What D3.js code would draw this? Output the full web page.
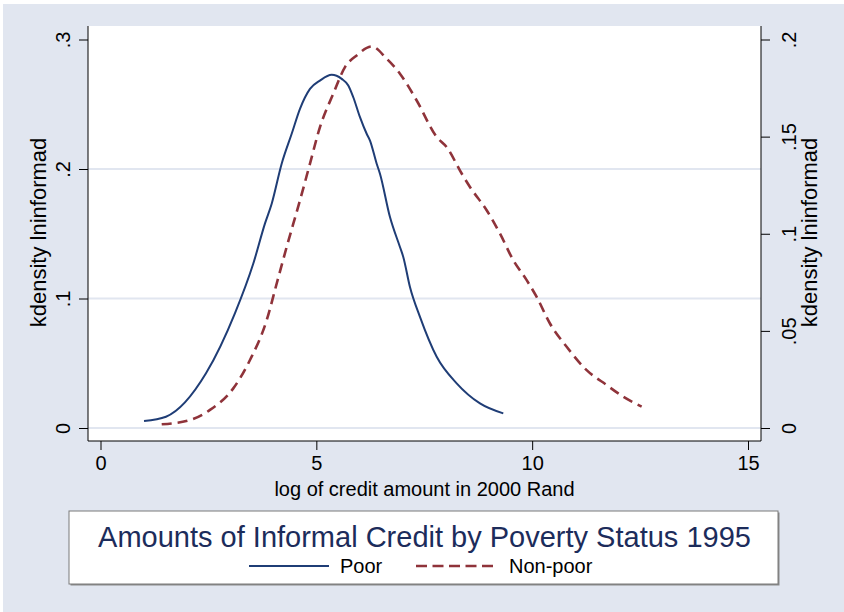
<!DOCTYPE html>
<html>
<head>
<meta charset="utf-8">
<script src="https://cdn.jsdelivr.net/npm/d3@7"></script>
<style>
  html, body { margin: 0; padding: 0; background: #ffffff; }
  svg { display: block; font-family: "Liberation Sans", Arial, Helvetica, sans-serif; }
</style>
</head>
<body>
<svg id="chart" width="844" height="612"></svg>
<script>
// ---- Data ----
const poorX = [1.008, 1.517, 2.444, 3.116, 3.540, 3.811, 3.966, 4.197, 4.429, 4.621, 4.853, 5.084, 5.356, 5.587, 5.740, 5.856, 6.011, 6.166, 6.243, 6.398, 6.474, 6.706, 6.937, 7.014, 7.169, 7.401, 7.788, 8.251, 8.791, 9.331];
const poorY = [0.0054, 0.0087, 0.0422, 0.0887, 0.1270, 0.1580, 0.1732, 0.2041, 0.2272, 0.2465, 0.2619, 0.2683, 0.2727, 0.2696, 0.2645, 0.2554, 0.2400, 0.2272, 0.2220, 0.2041, 0.1964, 0.1629, 0.1398, 0.1321, 0.1089, 0.0858, 0.0550, 0.0345, 0.0190, 0.0113];
const nonPoorX = [1.418, 2.073, 2.536, 3.076, 3.463, 3.850, 4.082, 4.313, 4.621, 4.853, 5.084, 5.393, 5.664, 5.935, 6.282, 6.630, 6.937, 7.325, 7.788, 8.020, 8.367, 8.559, 8.946, 9.254, 9.562, 9.873, 10.104, 10.412, 10.799, 11.262, 11.726, 12.110, 12.536];
const nonPoorY = [0.0019, 0.0041, 0.0093, 0.0204, 0.0350, 0.0555, 0.0744, 0.0932, 0.1172, 0.1361, 0.1549, 0.1721, 0.1858, 0.1918, 0.1964, 0.1901, 0.1824, 0.1686, 0.1498, 0.1446, 0.1310, 0.1241, 0.1121, 0.1001, 0.0864, 0.0761, 0.0675, 0.0538, 0.0418, 0.0298, 0.0221, 0.0161, 0.0110];
const xTicks = [0, 5, 10, 15];
const xTickLabels = ["0", "5", "10", "15"];
const yLeftTicks = [0, 0.1, 0.2, 0.3];
const yLeftTickLabels = ["0", ".1", ".2", ".3"];
const yLeftGrid = [0, 0.1, 0.2];
const yRightTicks = [0, 0.05, 0.1, 0.15, 0.2];
const yRightTickLabels = ["0", ".05", ".1", ".15", ".2"];
const seriesNames = ["Poor", "Non-poor"];
const titleText = "Amounts of Informal Credit by Poverty Status 1995";
const xTitle = "log of credit amount in 2000 Rand";
const yTitle = "kdensity lninformad";

// ---- Layout ----
const W = 844, H = 612;
const plot = { left: 88, right: 761, top: 26, bottom: 441 };
const bg = "#e1e6f0";
const poorColor = "#1f3d76";
const nonPoorColor = "#8f333a";

const svg = d3.select("#chart");

svg.append("rect").attr("x", 0).attr("y", 0).attr("width", W).attr("height", H).attr("fill", "#ffffff");
svg.append("rect").attr("x", 3).attr("y", 4).attr("width", W - 3).attr("height", H - 4).attr("fill", bg);
svg.append("rect").attr("x", plot.left).attr("y", plot.top)
  .attr("width", plot.right - plot.left).attr("height", plot.bottom - plot.top).attr("fill", "#ffffff");

const x = d3.scaleLinear().domain([0, 15]).range([100.5, 748]);
const yL = d3.scaleLinear().domain([0, 0.3]).range([428, 39.5]);
const yR = d3.scaleLinear().domain([0, 0.2]).range([428, 39.5]);

// gridlines
svg.append("g").selectAll("line").data(yLeftGrid).join("line")
  .attr("x1", plot.left).attr("x2", plot.right)
  .attr("y1", d => yL(d)).attr("y2", d => yL(d))
  .attr("stroke", bg).attr("stroke-width", 2);

// axes
const fmtMap = (ticks, labels) => d => labels[ticks.indexOf(d)];

const xAxis = svg.append("g").attr("transform", `translate(0,${plot.bottom})`)
  .call(d3.axisBottom(x).tickValues(xTicks).tickFormat(fmtMap(xTicks, xTickLabels)).tickSize(9).tickSizeOuter(0).tickPadding(6));
xAxis.select(".domain").attr("d", `M${plot.left},0H${plot.right}`).attr("stroke", "#000");
xAxis.selectAll("text").attr("font-size", 20).attr("fill", "#000").attr("font-family", "Liberation Sans, Arial, sans-serif");

const yAxisL = svg.append("g").attr("transform", `translate(${plot.left},0)`)
  .call(d3.axisLeft(yL).tickValues(yLeftTicks).tickFormat(fmtMap(yLeftTicks, yLeftTickLabels)).tickSize(9).tickSizeOuter(0));
yAxisL.select(".domain").attr("d", `M0,${plot.top}V${plot.bottom}`).attr("stroke", "#000");
yAxisL.selectAll(".tick text")
  .attr("font-size", 20).attr("fill", "#000").attr("font-family", "Liberation Sans, Arial, sans-serif")
  .attr("x", null).attr("dy", null)
  .attr("text-anchor", "middle")
  .attr("transform", "translate(-16,0) rotate(-90)")
  .attr("dy", "-0.1em");

const yAxisR = svg.append("g").attr("transform", `translate(${plot.right},0)`)
  .call(d3.axisRight(yR).tickValues(yRightTicks).tickFormat(fmtMap(yRightTicks, yRightTickLabels)).tickSize(9).tickSizeOuter(0));
yAxisR.select(".domain").attr("d", `M0,${plot.top}V${plot.bottom}`).attr("stroke", "#000");
yAxisR.selectAll(".tick text")
  .attr("font-size", 20).attr("fill", "#000").attr("font-family", "Liberation Sans, Arial, sans-serif")
  .attr("x", null).attr("dy", null)
  .attr("text-anchor", "middle")
  .attr("transform", "translate(35,0) rotate(-90)");

// axis titles
svg.append("text").attr("x", (plot.left + plot.right) / 2 + 0).attr("y", 496)
  .attr("text-anchor", "middle").attr("font-size", 20).attr("fill", "#000").text(xTitle);
svg.append("text").attr("transform", `translate(46,${(plot.top + plot.bottom) / 2 - 1}) rotate(-90)`)
  .attr("text-anchor", "middle").attr("font-size", 22).attr("fill", "#000").text(yTitle);
svg.append("text").attr("transform", `translate(817,${(plot.top + plot.bottom) / 2 - 1}) rotate(-90)`)
  .attr("text-anchor", "middle").attr("font-size", 22).attr("fill", "#000").text(yTitle);

// lines
const poorData = poorX.map((d, i) => [d, poorY[i]]);
const nonPoorData = nonPoorX.map((d, i) => [d, nonPoorY[i]]);

const lineL = d3.line().x(d => x(d[0])).y(d => yL(d[1])).curve(d3.curveMonotoneX);
const lineR = d3.line().x(d => x(d[0])).y(d => yR(d[1])).curve(d3.curveMonotoneX);

svg.append("path").datum(poorData).attr("d", lineL)
  .attr("fill", "none").attr("stroke", poorColor).attr("stroke-width", 2).attr("stroke-linejoin", "round");
svg.append("path").datum(nonPoorData).attr("d", lineR)
  .attr("fill", "none").attr("stroke", nonPoorColor).attr("stroke-width", 2.6)
  .attr("stroke-dasharray", "10,6").attr("stroke-linecap", "butt");

// legend box with title
const box = { x: 69, y: 511, w: 709, h: 73 };
svg.append("rect").attr("x", box.x + 1.5).attr("y", box.y + 1.5).attr("width", box.w).attr("height", box.h)
  .attr("fill", "#8a8a8a");
svg.append("rect").attr("x", box.x).attr("y", box.y).attr("width", box.w).attr("height", box.h)
  .attr("fill", "#ffffff").attr("stroke", "#7a7a7a").attr("stroke-width", 1);

svg.append("text").attr("x", 424.5).attr("y", 547).attr("text-anchor", "middle")
  .attr("font-size", 29).attr("fill", "#1c2c5b").text(titleText);

const legendItems = [
  { name: seriesNames[0], color: poorColor, dash: null, x1: 249, x2: 329, tx: 340, w: 2 },
  { name: seriesNames[1], color: nonPoorColor, dash: "11,5.5", x1: 416, x2: 497, tx: 509, w: 2.6 }
];
const lg = svg.append("g");
legendItems.forEach(it => {
  lg.append("line").attr("x1", it.x1).attr("x2", it.x2).attr("y1", 566).attr("y2", 566)
    .attr("stroke", it.color).attr("stroke-width", it.w).attr("stroke-dasharray", it.dash);
  lg.append("text").attr("x", it.tx).attr("y", 573).attr("font-size", 20).attr("fill", "#000").text(it.name);
});
</script>
</body>
</html>
